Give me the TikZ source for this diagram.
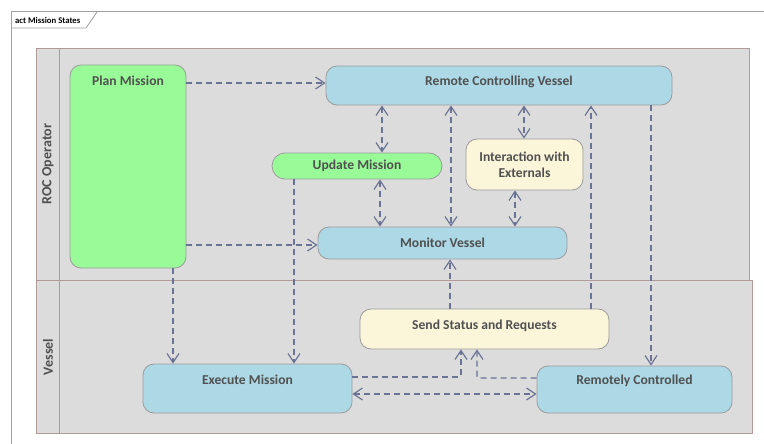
\documentclass[tikz,border=0pt]{standalone}
\usepackage{fontspec}
\setmainfont{Carlito}
\usetikzlibrary{arrows.meta}
\definecolor{lanebg}{HTML}{DCDCDC}
\definecolor{laneline}{HTML}{B09A9A}
\definecolor{nodeline}{HTML}{9C9C9C}
\definecolor{cblue}{HTML}{ADD8E6}
\definecolor{cgreen}{HTML}{98FB98}
\definecolor{cyellow}{HTML}{FBF5DA}
\definecolor{txt}{HTML}{505050}
\definecolor{arr}{HTML}{6B7394}
\definecolor{frame}{HTML}{A0A0A0}
\tikzset{
  lbl/.style={font=\bfseries\fontsize{13.6}{16}\selectfont, text=txt},
  act/.style={draw=nodeline, line width=0.8pt, rounded corners=11pt, lbl, inner sep=0pt},
  tip/.tip={Straight Barb[length=9pt,width=12pt,line width=1.2pt]},
  flow/.style={draw=arr, line width=1.4pt, dash pattern=on 6pt off 4pt, -tip},
  bflow/.style={flow, tip-tip},
  lanelbl/.style={rotate=90, font=\bfseries\fontsize{14}{16}\selectfont, text=txt}
}
\begin{document}
\begin{tikzpicture}[x=1pt,y=-1pt]
\useasboundingbox (0,0) rectangle (764,444);
\fill[white] (0,0) rectangle (764,444);
% frame
\draw[frame, line width=1pt] (11,444) -- (11,12) -- (764,12);
\draw[frame, line width=0.8pt] (11,28) -- (86,28) -- (97,12);
\node[anchor=west, font=\bfseries\fontsize{8.7}{10}\selectfont, text=black, inner sep=0pt] (title) at (15,20) {act Mission States};
% lanes
\filldraw[fill=lanebg, draw=laneline, line width=0.8pt] (36,48) rectangle (749,280);
\filldraw[fill=lanebg, draw=laneline, line width=0.8pt] (36,280) rectangle (752,433);
\draw[laneline, line width=0.8pt] (59,48) -- (59,433);
\draw[laneline, line width=1pt] (36,280) -- (752,280);
\node[lanelbl] (roc) at (48,164) {ROC Operator};
\node[lanelbl] (ves) at (48,357) {Vessel};
% nodes
\node[act, fill=cgreen, minimum width=116pt, minimum height=203pt] (plan) at (128,166.5) {};
\node[lbl] (plant) at (128,81) {Plan Mission};
\node[act, fill=cblue, minimum width=346pt, minimum height=39pt] (rcv) at (499,85.5) {};
\node[lbl] (rcvt) at (499,82) {Remote Controlling Vessel};
\node[act, fill=cgreen, minimum width=170pt, minimum height=26pt, rounded corners=13pt] (upd) at (357,166) {Update Mission};
\node[act, fill=cyellow, minimum width=117pt, minimum height=51pt, align=center] (ext) at (524.5,164.5) {Interaction with\\Externals};
\node[act, fill=cblue, minimum width=249pt, minimum height=32pt] (mon) at (442.5,243) {Monitor Vessel};
\node[act, fill=cyellow, minimum width=249pt, minimum height=40pt] (send) at (484.5,329) {};
\node[lbl] (sendt) at (484.5,326) {Send Status and Requests};
\node[act, fill=cblue, minimum width=209pt, minimum height=49pt] (exe) at (247.5,388.5) {};
\node[lbl] (exet) at (247.5,380) {Execute Mission};
\node[act, fill=cblue, minimum width=195pt, minimum height=47pt] (rc) at (634.5,389.5) {};
\node[lbl] (rct) at (634.5,381) {Remotely Controlled};
% connectors
\draw[flow] (plan.east |- 0,83) -- (rcv.west |- 0,83);
\draw[flow] (plan.east |- 0,245) -- (mon.west |- 0,245);
\draw[flow] (plan.south -| 173,0) -- (exe.north -| 173,0);
\draw[flow] (upd.south -| 294,0) -- (exe.north -| 294,0);
\draw[bflow] (rcv.south -| 382,0) -- (upd.north -| 382,0);
\draw[bflow] (upd.south -| 380,0) -- (mon.north -| 380,0);
\draw[bflow] (rcv.south -| 451,0) -- (mon.north -| 451,0);
\draw[bflow] (rcv.south -| 524,0) -- (ext.north -| 524,0);
\draw[bflow] (ext.south -| 515,0) -- (mon.north -| 515,0);
\draw[flow] (send.north -| 450,0) -- (mon.south -| 450,0);
\draw[flow] (send.north -| 591,0) -- (rcv.south -| 591,0);
\draw[flow] (rcv.south -| 651,0) -- (rc.north -| 651,0);
\draw[flow, rounded corners=2pt] (exe.east |- 0,377) -- (461,377) -- (send.south -| 461,0);
\draw[flow, rounded corners=2pt] (rc.west |- 0,378) -- (477,378) -- (send.south -| 477,0);
\draw[bflow] (exe.east |- 0,394) -- (rc.west |- 0,394);
\end{tikzpicture}
\end{document}
